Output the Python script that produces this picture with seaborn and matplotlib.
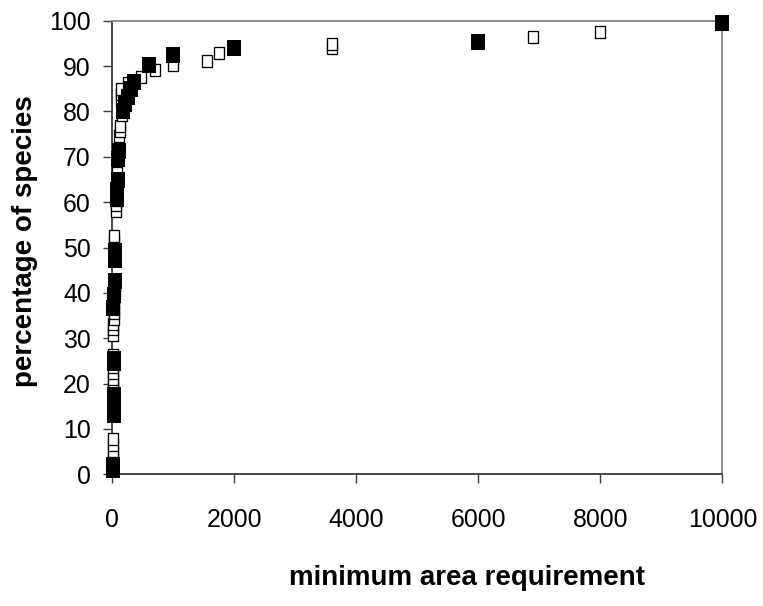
import numpy as np
import matplotlib
matplotlib.use("Agg")
import matplotlib.pyplot as plt
import seaborn as sns
from matplotlib import font_manager
from matplotlib.path import Path
from matplotlib.markers import MarkerStyle

# open squares (first group)
open_x = [5, 5, 5, 5, 5, 5,
          15, 15, 15, 15,
          10, 10, 10,
          15, 15, 15, 15,
          10, 10, 10,
          20, 25, 30, 30, 35, 40, 40, 45,
          50, 50,
          20, 20,
          60, 60,
          80, 80, 80, 80,
          70, 70,
          95, 100, 100,
          110, 120, 125,
          160, 180, 200, 140, 145, 150, 250, 470,
          700, 1000, 1550, 1750, 3600, 3600, 6900, 8000, 10000]
open_y = [1.3, 2.6, 3.9, 5.2, 6.5, 7.8,
          13.0, 14.3, 15.6, 16.9,
          18.9, 20.0, 21.1,
          22.3, 23.6, 24.9, 26.2,
          30.8, 32.0, 33.1,
          34.3, 35.5, 36.7, 37.9, 39.1, 40.3, 41.5, 42.7,
          47.5, 48.7,
          51.4, 52.6,
          58.1, 59.3,
          60.5, 61.7, 62.9, 64.1,
          65.3, 66.5,
          69.3, 70.5, 71.7,
          74.5, 75.6, 76.7,
          79.3, 80.6, 81.4, 82.6, 83.8, 85.0, 86.2, 87.6,
          89.2, 90.3, 91.2, 92.9, 94.0, 94.9, 96.5, 97.5, 99.6]

# filled squares (second group)
filled_x = [10, 15, 20, 25, 25, 20, 22, 15, 30, 45, 40, 50,
            75, 80, 85, 95, 110,
            170, 210, 250, 300, 350,
            600, 1000, 2000, 6000, 10000]
filled_y = [1.0, 2.1, 13.1, 15.3, 17.4, 24.6, 25.4, 36.6, 39.6, 42.6, 47.3, 49.3,
            60.6, 62.7, 64.8, 69.6, 71.2,
            80.0, 81.6, 83.2, 84.9, 86.6,
            90.2, 92.4, 94.0, 95.4, 99.6]

x_ticks = [0, 2000, 4000, 6000, 8000, 10000]
y_ticks = [0, 10, 20, 30, 40, 50, 60, 70, 80, 90, 100]

sns.set_theme(style="white")

names = {f.name for f in font_manager.fontManager.ttflist}
if "Liberation Sans Narrow" in names:
    tick_font, tick_size, xlab_size = "Liberation Sans Narrow", 21.7, 24.3
else:
    tick_font, tick_size, xlab_size = "Liberation Sans", 17.9, 20
plt.rcParams["font.family"] = [tick_font, "DejaVu Sans"]

fig, ax = plt.subplots(figsize=(7.63, 6.06), dpi=100)
fig.subplots_adjust(left=0.1472, right=0.9469, bottom=0.2173, top=0.9658)

# squares that are a bit taller than wide, like the original
def rect_marker(ratio):
    w = ratio / 2
    return MarkerStyle(Path([(-w, -0.5), (w, -0.5), (w, 0.5), (-w, 0.5), (-w, -0.5)], closed=True))

sns.scatterplot(x=open_x, y=open_y, marker=rect_marker(0.81), s=75,
                color="white", edgecolor="black", linewidth=0.95,
                clip_on=False, zorder=3, ax=ax)
sns.scatterplot(x=filled_x, y=filled_y, marker=rect_marker(0.88), s=141,
                color="black", edgecolor="black", linewidth=0,
                clip_on=False, zorder=4, ax=ax)

ax.set_xlim(0, 10000)
ax.set_ylim(0, 100)
ax.set_xticks(x_ticks)
ax.set_yticks(y_ticks)
ax.set_xticklabels([str(t) for t in x_ticks])
ax.set_yticklabels([str(t) for t in y_ticks])

for side in ["left", "bottom"]:
    ax.spines[side].set_color("#3a3a3a")
    ax.spines[side].set_linewidth(1.3)
for side in ["top", "right"]:
    ax.spines[side].set_color("#8c8c8c")
    ax.spines[side].set_linewidth(1.4)

ax.tick_params(axis="both", direction="out", length=6.5, width=1,
               color="#3a3a3a", labelsize=tick_size, labelcolor="black")
ax.tick_params(axis="x", pad=18, bottom=True)
ax.tick_params(axis="y", pad=9, left=True)

ax.set_xlabel("minimum area requirement", fontsize=xlab_size, fontweight="bold",
              family=[tick_font, "DejaVu Sans"], color="black")
ax.xaxis.set_label_coords(0.581, -0.200)
ax.set_ylabel("percentage of species", fontsize=20, fontweight="bold",
              family=["Liberation Sans", "DejaVu Sans"], color="black")
ax.yaxis.set_label_coords(-0.1213, 0.514)

fig.savefig("out.png", dpi=100)
